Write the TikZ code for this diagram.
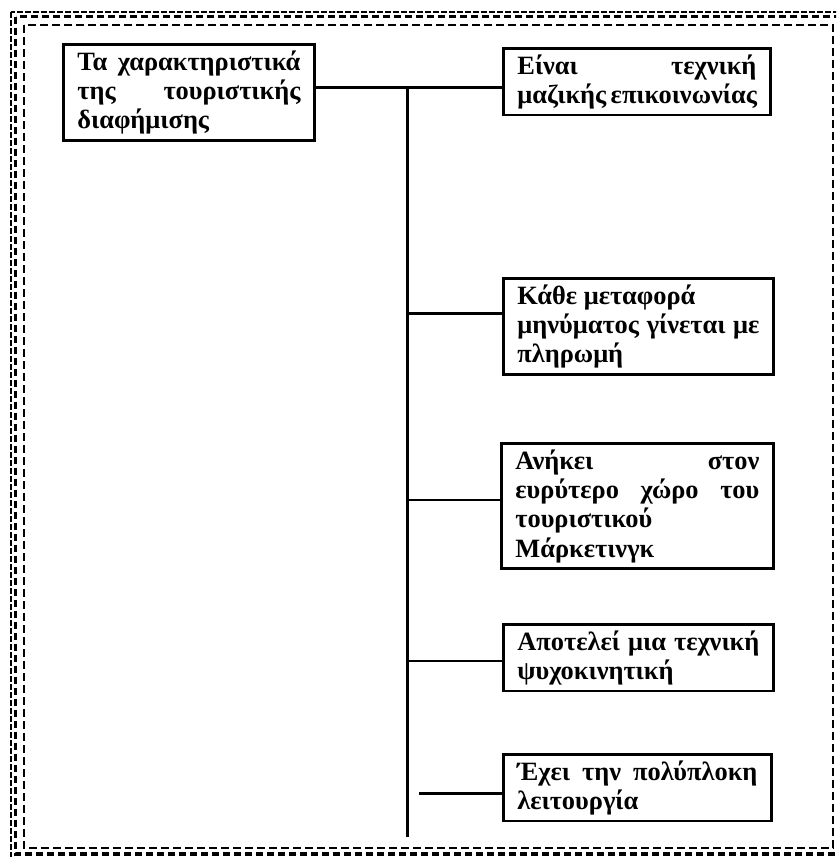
\documentclass[tikz,border=0pt]{standalone}
\usepackage{fontspec}
\setmainfont{Liberation Serif}
\tolerance=10000

\begin{document}
\begin{tikzpicture}[x=0.5pt,y=-0.5pt]
    \tikzset{box/.style = {shape=rectangle,draw,line width=1.4pt,anchor=north west,align=justify,inner xsep=7pt,inner ysep=3pt,font=\bfseries\fontsize{13.2}{14.7}\selectfont}}
    \tikzset{edge/.style = {-,line width=1.5pt}}
    \tikzset{thinedge/.style = {-,line width=0.8pt}}

    % frame
    \clip (0,0) rectangle (836,857);
    \draw[line width=0.6pt,dash pattern=on 3pt off 1pt] (11,12) rectangle (851,866);
    \draw[line width=1.8pt,dash pattern=on 3.5pt off 2pt] (15.5,16.5) rectangle (839,854);
    \draw[line width=1.1pt,dash pattern=on 4pt off 2pt] (24,25) rectangle (833,848);

    % vertices

    \node[box,text width=111.5pt] (b1) at (62,43) {Τα~χαρακτηριστικά\linebreak της~τουριστικής\linebreak διαφήμισης};

    \node[box,text width=119.5pt] (b2) at (502,47) {Είναι~τεχνική\linebreak μαζικής~επικοινωνίας};
\node[box,text width=121pt] (b3) at (502,277) {Κάθε μεταφορά\\ μηνύματος~γίνεται~με\linebreak πληρωμή};
\node[box,text width=122pt] (b4) at (500,442) {Ανήκει~στον\linebreak ευρύτερο~χώρο~του\linebreak τουριστικού\\ Μάρκετινγκ};
\node[box,text width=121pt] (b5) at (502,623) {Αποτελεί~μια~τεχνική\linebreak ψυχοκινητική};
\node[box,text width=120pt] (b6) at (502,753) {Έχει~την~πολύπλοκη\linebreak λειτουργία};

    \coordinate (top) at (407,87);
    \coordinate (bot) at (407,837);
    \coordinate (j3) at (407,313);
    \coordinate (j4) at (407,500);
    \coordinate (j5) at (407,661);
    \coordinate (j6) at (419,793);

 \draw[edge] (b1.east |- top) to (b2.west |- top);
    \draw[edge] (top) to (bot);
    \draw[edge] (j3) to (j3 -| b3.west);
     \draw[thinedge] (j4) to (j4 -| b4.west);
     \draw[thinedge] (j5) to (j5 -| b5.west);
      \draw[edge] (j6) to (j6 -| b6.west);
      \end{tikzpicture}
\end{document}
